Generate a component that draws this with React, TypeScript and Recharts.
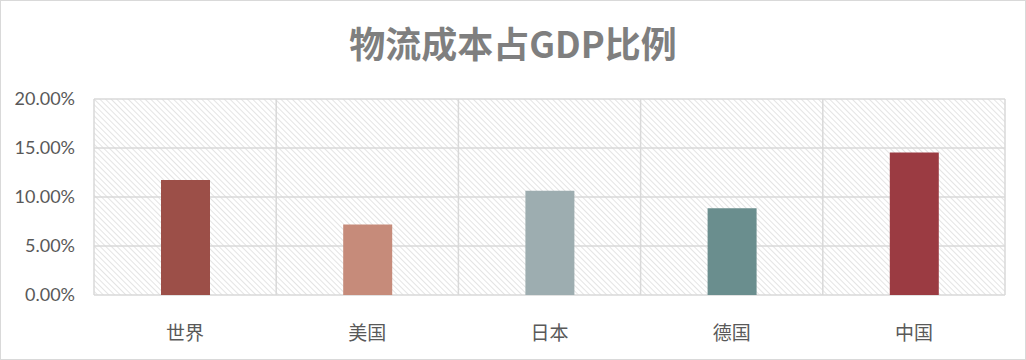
import React from 'react';
import { BarChart, Bar, XAxis, YAxis, CartesianGrid, Cell } from 'recharts';

const categories = ['世界', '美国', '日本', '德国', '中国'];
const values = [0.1174, 0.072, 0.1065, 0.0884, 0.1454];
const barColors = ['#9C4F48', '#C68B7A', '#9DADB0', '#6A8E8E', '#9B3B42'];
const yTicks = [0, 0.05, 0.1, 0.15, 0.2];
const title = '物流成本占GDP比例';

const data = categories.map((c, i) => ({ name: c, value: values[i] }));

const W = 1026;
const H = 360;

export default function App() {
  return (
    <div
      style={{
        position: 'absolute',
        left: 0,
        top: 0,
        width: W,
        height: H,
        boxSizing: 'border-box',
        border: '1px solid #d9d9d9',
        background: '#fff',
        fontFamily: '"Noto Sans CJK SC", "Noto Sans", sans-serif',
      }}
    >
      <svg width="0" height="0" style={{ position: 'absolute' }}>
        <defs>
          <pattern id="hatch" width="4" height="4" patternUnits="userSpaceOnUse" patternTransform="rotate(-45)">
            <rect width="4" height="4" fill="#ffffff" />
            <line x1="0" y1="0" x2="0" y2="4" stroke="#dedede" strokeWidth="1.6" />
          </pattern>
        </defs>
      </svg>
      <div
        style={{
          position: 'absolute',
          left: 0,
          top: 19,
          width: W - 2,
          textAlign: 'center',
          fontSize: 36,
          fontWeight: 'bold',
          color: '#7f7f7f',
          lineHeight: '44px',
        }}
      >
        {title}
      </div>
      <div style={{ position: 'absolute', left: -1, top: -1 }}>
        <BarChart width={W} height={H} data={data} margin={{ top: 99, right: 21, bottom: 0, left: 0 }}>
          <CartesianGrid
            fill="url(#hatch)"
            stroke="#d9d9d9"
            strokeWidth={1.5}
            verticalCoordinatesGenerator={({ offset }: any) =>
              categories.map((_, i) => offset.left + (offset.width * i) / categories.length).concat([offset.left + offset.width])
            }
            horizontalValues={yTicks}
          />
          <XAxis
            dataKey="name"
            axisLine={false}
            tickLine={false}
            height={65}
            tickMargin={26}
            tick={{ fill: '#595959', fontSize: 19, fontFamily: '"Noto Sans CJK SC", sans-serif' }}
          />
          <YAxis
            domain={[0, 0.2]}
            ticks={yTicks}
            width={94}
            axisLine={false}
            tickLine={false}
            tickMargin={13}
            tickFormatter={(v: number) => (v * 100).toFixed(2) + '%'}
            tick={{ fill: '#595959', fontSize: 18, fontFamily: 'Lato, sans-serif' }}
          />
          <Bar dataKey="value" barSize={49} isAnimationActive={false}>
            {data.map((d, i) => (
              <Cell key={d.name} fill={barColors[i]} />
            ))}
          </Bar>
        </BarChart>
      </div>
    </div>
  );
}
